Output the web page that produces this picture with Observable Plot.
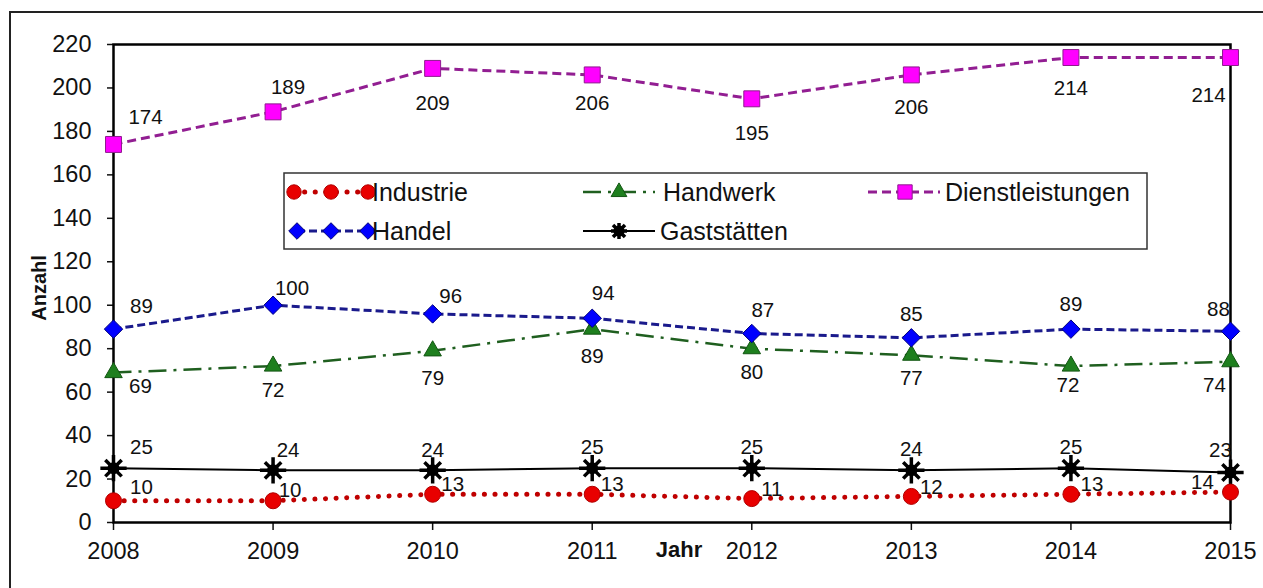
<!DOCTYPE html>
<html><head><meta charset="utf-8">
<script src="https://cdn.jsdelivr.net/npm/d3@7"></script>
<script src="https://cdn.jsdelivr.net/npm/@observablehq/plot@0.6"></script>
<style>
html,body{margin:0;padding:0;background:#fff;overflow:hidden;}
#wrap{position:relative;width:1263px;height:588px;overflow:hidden;}
#border{position:absolute;left:9px;top:11px;width:1300px;height:700px;border:2px solid #222;}
#chart{position:absolute;left:0;top:0;}
#overlay{position:absolute;left:0;top:0;}
</style></head><body>
<div id="wrap"><div id="border"></div><div id="chart"></div><svg id="overlay" width="1263" height="588"></svg></div>
<script>
// ---------- data ----------
const years = [2008, 2009, 2010, 2011, 2012, 2013, 2014, 2015];
const industrie = [10, 10, 13, 13, 11, 12, 13, 14];
const handwerk = [69, 72, 79, 89, 80, 77, 72, 74];
const dienstleistungen = [174, 189, 209, 206, 195, 206, 214, 214];
const handel = [89, 100, 96, 94, 87, 85, 89, 88];
const gaststaetten = [25, 24, 24, 25, 25, 24, 25, 23];
const seriesNames = ["Industrie", "Handwerk", "Dienstleistungen", "Handel", "Gaststätten"];
const yTicks = [0, 20, 40, 60, 80, 100, 120, 140, 160, 180, 200, 220];
const xTitle = "Jahr";
const yTitle = "Anzahl";

// ---------- styles / layout ----------
const FONT = "'Liberation Sans', Arial, sans-serif";
const styles = {
  "Industrie": {values: industrie, stroke: "#C00000", width: 5, dash: "0.1,10.5", cap: "round",
    symbol: "circle", r: 8, fill: "#E80000", mstroke: "#B00000",
    off: [[28,-13],[17,-10],[20,-10],[20,-10],[20,-9],[20,-9],[21,-10],[-28,-10]]},
  "Handwerk": {values: handwerk, stroke: "#1F5F1F", width: 2.5, dash: "18,7,3,7", cap: "butt",
    symbol: "triangle", r: 6.5, fill: "#1E7F1E", mstroke: "#125512",
    off: [[27,14],[0,24],[0,28],[0,27],[0,24],[0,23],[-3,19],[-16,24]]},
  "Dienstleistungen": {values: dienstleistungen, stroke: "#921E92", width: 3, dash: "9,5", cap: "butt",
    symbol: "square", r: 9, fill: "#FF00FF", mstroke: "#8E1A8E",
    off: [[32,-27],[15,-24],[0,35],[0,29],[0,35],[0,33],[0,31],[-22,38]]},
  "Handel": {values: handel, stroke: "#1A1A8C", width: 3, dash: "8,4", cap: "butt",
    symbol: "diamond2", r: 8.3, fill: "#0000FF", mstroke: "#00007A",
    off: [[28,-23],[19,-17],[18,-17],[11,-25],[11,-23],[0,-23],[0,-25],[-12,-22]]},
  "Gaststätten": {values: gaststaetten, stroke: "#000", width: 2, dash: null, cap: "butt",
    symbol: "star8", r: 7, fill: "#000", mstroke: "#000",
    off: [[28,-21],[15,-20],[0,-20],[0,-21],[0,-21],[0,-21],[0,-21],[-10,-22]]}
};

const marks = [];
// axes & frame
marks.push(Plot.axisY({ticks: yTicks, tickSize: 6, tickPadding: 16, label: null, fontSize: 23.5, strokeWidth: 1.5}));
marks.push(Plot.axisX({ticks: years, tickSize: 8, tickPadding: 12, label: null, fontSize: 23.5, strokeWidth: 1.5, tickFormat: d => String(d)}));
marks.push(Plot.frame({stroke: "#000", strokeWidth: 2.5}));

const drawOrder = ["Gaststätten", "Industrie", "Handwerk", "Handel", "Dienstleistungen"];
for (const name of drawOrder) {
  const s = styles[name];
  const rows = years.map((yr, i) => ({year: yr, value: s.values[i], name}));
  marks.push(Plot.line(rows, {x: "year", y: "value", stroke: s.stroke, strokeWidth: s.width,
    strokeDasharray: s.dash || undefined, strokeLinecap: s.cap}));
}
for (const name of drawOrder) {
  const s = styles[name];
  const rows = years.map((yr, i) => ({year: yr, value: s.values[i], name}));
  if (s.symbol === "star8") {
    marks.push(Plot.dot(rows, {x: "year", y: "value", symbol: "plus", r: 8.5, stroke: "#000", strokeWidth: 3.5}));
    marks.push(Plot.dot(rows, {x: "year", y: "value", symbol: "times", r: 7.5, stroke: "#000", strokeWidth: 3.5}));
    marks.push(Plot.dot(rows, {x: "year", y: "value", symbol: "circle", r: 6, fill: "#000"}));
  } else {
    marks.push(Plot.dot(rows, {x: "year", y: "value", symbol: s.symbol, r: s.r, fill: s.fill, stroke: s.mstroke, strokeWidth: 1}));
  }
}
// value labels
for (const name of drawOrder) {
  const s = styles[name];
  years.forEach((yr, i) => {
    marks.push(Plot.text([{year: yr, value: s.values[i]}], {x: "year", y: "value", text: d => String(d.value),
      dx: s.off[i][0], dy: s.off[i][1], fontSize: 20.5, fill: "#111", fontFamily: FONT}));
  });
}

const plot = Plot.plot({
  width: 1263, height: 588,
  marginLeft: 113, marginRight: 33, marginTop: 44, marginBottom: 66,
  style: {fontFamily: FONT, fontSize: "23px", color: "#111", background: "transparent", overflow: "visible"},
  x: {domain: [2008, 2015]},
  y: {domain: [0, 220]},
  marks
});
document.getElementById("chart").appendChild(plot);

// ---------- overlay: axis titles & legend ----------
const svg = d3.select("#overlay");
svg.append("text").attr("transform", "translate(46,288) rotate(-90)")
  .attr("text-anchor", "middle").attr("font-family", FONT).attr("font-weight", "bold")
  .attr("font-size", 20).attr("fill", "#111").text(yTitle);
svg.append("text").attr("x", 679).attr("y", 557)
  .attr("text-anchor", "middle").attr("font-family", FONT).attr("font-weight", "bold")
  .attr("font-size", 22).attr("fill", "#111").text(xTitle);

const lg = svg.append("g");
lg.append("rect").attr("x", 284).attr("y", 173).attr("width", 863).attr("height", 76)
  .attr("fill", "#fff").attr("stroke", "#333").attr("stroke-width", 1.5);

const symMap = {circle: d3.symbolCircle, triangle: d3.symbolTriangle, square: d3.symbolSquare, diamond2: d3.symbolDiamond2};
function drawSym(g, s, cx, cy, scale) {
  if (s.symbol === "star8") {
    const st = g.append("g").attr("transform", `translate(${cx},${cy})`).attr("stroke", "#000").attr("stroke-width", 3.5);
    st.append("line").attr("x1", -8).attr("x2", 8).attr("y1", 0).attr("y2", 0);
    st.append("line").attr("y1", -8).attr("y2", 8).attr("x1", 0).attr("x2", 0);
    st.append("line").attr("x1", -6).attr("x2", 6).attr("y1", -6).attr("y2", 6);
    st.append("line").attr("x1", -6).attr("x2", 6).attr("y1", 6).attr("y2", -6);
    st.append("circle").attr("r", 5.5).attr("fill", "#000").attr("stroke", "none");
  } else {
    g.append("path").attr("d", d3.symbol(symMap[s.symbol], Math.PI * (s.r * scale) ** 2)())
      .attr("transform", `translate(${cx},${cy})`).attr("fill", s.fill).attr("stroke", s.mstroke).attr("stroke-width", 1);
  }
}
const legendItems = [
  {name: "Industrie", x0: 294, x1: 368, syms: [294, 331, 368], tx: 372, y: 192},
  {name: "Handwerk", x0: 583, x1: 655, syms: [619], tx: 663, y: 192},
  {name: "Dienstleistungen", x0: 868, x1: 940, syms: [905], tx: 945, y: 192},
  {name: "Handel", x0: 297, x1: 368, syms: [297, 331, 368], tx: 372, y: 231},
  {name: "Gaststätten", x0: 583, x1: 655, syms: [619], tx: 660, y: 231}
];
for (const it of legendItems) {
  const s = styles[it.name];
  lg.append("line").attr("x1", it.x0).attr("x2", it.x1).attr("y1", it.y).attr("y2", it.y)
    .attr("stroke", s.stroke).attr("stroke-width", s.width)
    .attr("stroke-dasharray", s.dash || null).attr("stroke-linecap", s.cap);
  for (const sx of it.syms) drawSym(lg, s, sx, it.y, 0.9);
  lg.append("text").attr("x", it.tx).attr("y", it.y + 8.5).attr("font-family", FONT)
    .attr("font-size", 25).attr("fill", "#111").text(it.name);
}
</script>
</body></html>
